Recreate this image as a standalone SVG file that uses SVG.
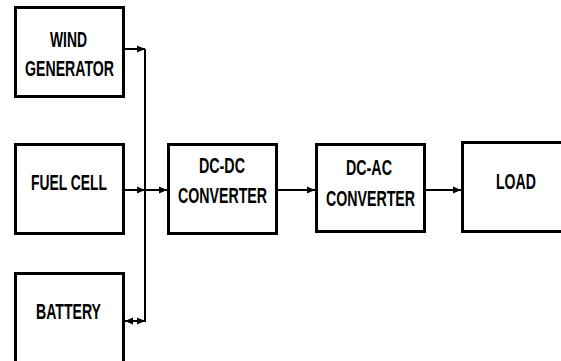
<svg xmlns="http://www.w3.org/2000/svg" width="561" height="361" viewBox="0 0 561 361">
<defs>
<marker id="ah" markerUnits="userSpaceOnUse" markerWidth="9" markerHeight="8" refX="8" refY="4" orient="auto-start-reverse">
<path d="M0,0.5 L8,4 L0,7.5 z" fill="#000"/>
</marker>
<style>
.box{fill:#fff;stroke:#000;stroke-width:3}
.t{font-family:"Liberation Sans",Arial,sans-serif;font-weight:bold;font-size:22px;fill:#000;text-anchor:middle}
.c{fill:none;stroke:#000;stroke-width:2}
</style>
</defs>
<rect width="561" height="361" fill="#fff"/>
<g id="wind">
<rect class="box" x="15.5" y="7.5" width="108" height="89"/>
<text class="t" x="68.5" y="47" textLength="37" lengthAdjust="spacingAndGlyphs">WIND</text>
<text class="t" x="69.5" y="76" textLength="89" lengthAdjust="spacingAndGlyphs">GENERATOR</text>
</g>
<g id="fuel">
<rect class="box" x="15.5" y="144.5" width="108" height="89"/>
<text class="t" x="69" y="190" textLength="76" lengthAdjust="spacingAndGlyphs">FUEL CELL</text>
</g>
<g id="battery">
<rect class="box" x="15.5" y="273.5" width="108" height="100"/>
<text class="t" x="68.5" y="319" textLength="65" lengthAdjust="spacingAndGlyphs">BATTERY</text>
</g>
<g id="dcdc">
<rect class="box" x="168.5" y="144.5" width="108" height="89"/>
<text class="t" x="222" y="173" textLength="46" lengthAdjust="spacingAndGlyphs">DC-DC</text>
<text class="t" x="222.5" y="203" textLength="89" lengthAdjust="spacingAndGlyphs">CONVERTER</text>
</g>
<g id="dcac">
<rect class="box" x="316.5" y="144.5" width="108" height="87"/>
<text class="t" x="369" y="175" textLength="46" lengthAdjust="spacingAndGlyphs">DC-AC</text>
<text class="t" x="370.5" y="206" textLength="89" lengthAdjust="spacingAndGlyphs">CONVERTER</text>
</g>
<g id="load">
<rect class="box" x="462.5" y="142.5" width="110" height="89"/>
<text class="t" x="516" y="189" textLength="40" lengthAdjust="spacingAndGlyphs">LOAD</text>
</g>
<g id="connectors">
<path class="c" d="M125,49 H145" marker-end="url(#ah)"/>
<path class="c" d="M145,49 V322"/>
<path class="c" d="M125,190 H145" marker-end="url(#ah)"/>
<path class="c" d="M145,190 H167" marker-end="url(#ah)"/>
<path class="c" d="M125,321 H145" marker-start="url(#ah)" marker-end="url(#ah)"/>
<path class="c" d="M278,190 H315" marker-end="url(#ah)"/>
<path class="c" d="M426,190 H461" marker-end="url(#ah)"/>
</g>
</svg>
